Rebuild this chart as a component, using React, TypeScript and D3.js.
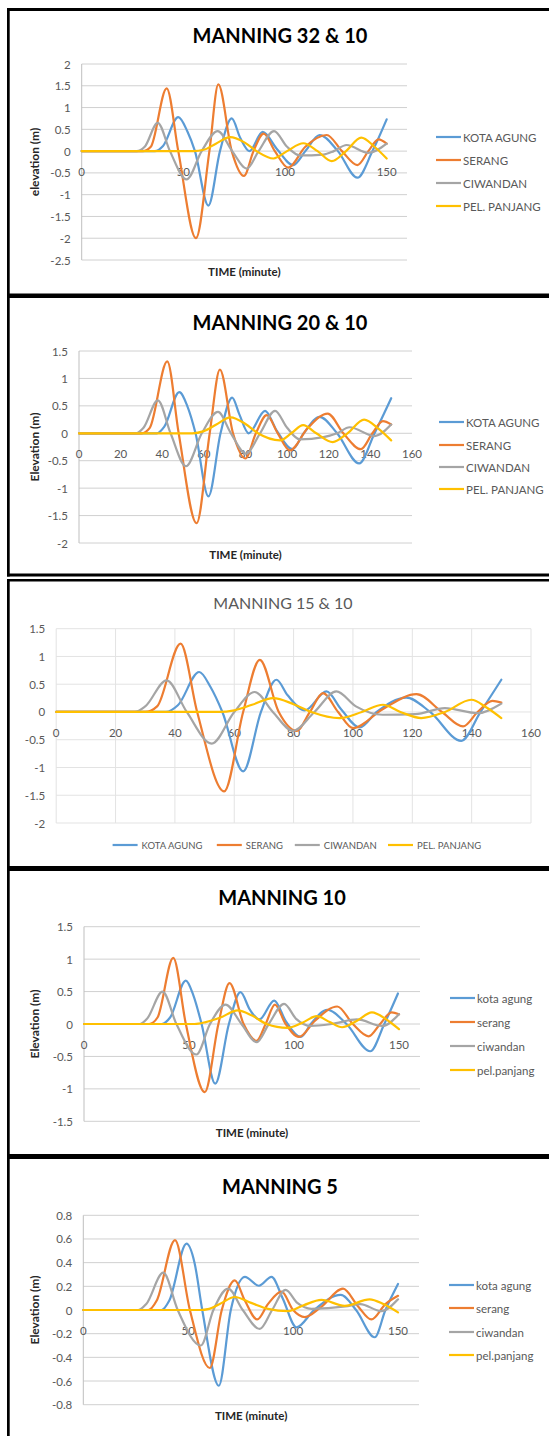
import React from 'react';
import * as d3 from 'd3';

type Pt = [number, number];

// series names and colours
const namesUpper = ['KOTA AGUNG', 'SERANG', 'CIWANDAN', 'PEL. PANJANG'];
const namesLower = ['kota agung', 'serang', 'ciwandan', 'pel.panjang'];
const colors = ['#5B9BD5', '#ED7D31', '#A5A5A5', '#FFC000'];

// tick labels
const xTicks50 = [0, 50, 100, 150];
const xTicks20 = [0, 20, 40, 60, 80, 100, 120, 140, 160];
const yTicks32 = [-2.5, -2, -1.5, -1, -0.5, 0, 0.5, 1, 1.5, 2];
const yTicks20 = [-2, -1.5, -1, -0.5, 0, 0.5, 1, 1.5];
const yTicks15 = [-2, -1.5, -1, -0.5, 0, 0.5, 1, 1.5];
const yTicks10 = [-1.5, -1, -0.5, 0, 0.5, 1, 1.5];
const yTicks5 = [-0.8, -0.6, -0.4, -0.2, 0, 0.2, 0.4, 0.6, 0.8];

// MANNING 32 & 10
const m32Kota: Pt[] = [[0, 0], [36, 0], [40, 0.12], [47.5, 0.78], [52, 0.45], [55.7, 0], [62.3, -1.25], [68, 0], [73.8, 0.75], [78, 0.3], [82.5, 0], [89, 0.44], [96, 0.05], [104, -0.32], [110, 0], [117, 0.37], [126, 0], [135.6, -0.61], [143, 0], [150, 0.73]];
const m32Serang: Pt[] = [[0, 0], [30, 0], [34, 0.1], [41.8, 1.44], [47.5, 0], [56.2, -2.0], [62.8, 0], [67.2, 1.53], [73.8, 0], [79.8, -0.57], [84.5, 0], [89.5, 0.4], [95, 0], [101.5, -0.38], [110, 0.1], [120.5, 0.37], [128, 0], [135.6, -0.32], [141, 0], [146, 0.27], [150, 0.17]];
const m32Ciwandan: Pt[] = [[0, 0], [27, 0], [31, 0.1], [37.4, 0.65], [43.4, 0], [51.6, -0.65], [59, 0], [66.9, 0.46], [74, 0], [81.2, -0.4], [87, 0], [94.6, 0.46], [101, 0.1], [107.4, -0.1], [118.8, -0.08], [124, 0], [130.3, 0.14], [141, -0.04], [150, 0.17]];
const m32Panjang: Pt[] = [[0, 0], [55, 0], [60, 0.03], [66, 0.17], [73, 0.32], [80, 0.2], [86, 0], [94.3, -0.17], [101, 0], [109, 0.18], [116, 0], [123, -0.23], [130, 0], [137.5, 0.31], [144, 0.1], [150, -0.17]];

// MANNING 20 & 10
const m20Kota: Pt[] = [[0, 0], [37.5, 0], [41, 0.12], [48.2, 0.75], [52, 0.5], [56, 0], [62.2, -1.15], [68, 0], [73.6, 0.65], [77, 0.35], [81.5, 0], [89.4, 0.41], [95, 0.05], [102.5, -0.29], [108, 0], [115.6, 0.3], [124, 0], [134.6, -0.55], [142, 0], [150, 0.64]];
const m20Serang: Pt[] = [[0, 0], [30, 0], [34, 0.1], [42.4, 1.31], [47.9, 0], [56.5, -1.64], [62.8, 0], [67.7, 1.16], [74, 0], [79.9, -0.46], [85, 0], [90.2, 0.33], [95.5, 0], [101.3, -0.31], [110, 0.1], [119.5, 0.36], [127, 0], [135.4, -0.29], [141, 0], [146, 0.22], [150, 0.16]];
const m20Ciwandan: Pt[] = [[0, 0], [27.5, 0], [31, 0.1], [37.9, 0.6], [44, 0], [51.4, -0.6], [59, 0], [66.8, 0.39], [73, 0], [80.2, -0.37], [87, 0], [94.2, 0.41], [100, 0.1], [106, -0.11], [117.5, -0.07], [124, 0], [130, 0.11], [142, -0.05], [150, 0.16]];
const m20Panjang: Pt[] = [[0, 0], [54.5, 0], [60, 0.04], [66, 0.16], [72.8, 0.29], [80, 0.17], [86, 0], [96.6, -0.13], [102, 0], [107.7, 0.15], [114, 0], [121.9, -0.16], [129, 0], [137, 0.25], [144, 0.08], [150, -0.13]];

// MANNING 15 & 10
const m15Kota: Pt[] = [[0, 0], [37, 0], [41, 0.12], [48.2, 0.72], [52, 0.45], [56, 0], [63, -1.07], [69, 0], [74.2, 0.58], [78, 0.3], [83.8, 0.03], [91.1, 0.37], [96, 0.05], [102.3, -0.28], [108, 0], [118, 0.26], [126, 0], [136.5, -0.52], [143, 0], [150, 0.58]];
const m15Serang: Pt[] = [[0, 0], [30, 0], [34, 0.1], [41.9, 1.23], [47.5, 0], [56.6, -1.43], [63, 0], [68.6, 0.94], [75, 0], [81, -0.34], [85.5, 0], [89.9, 0.34], [95, 0], [100, -0.29], [110, 0.05], [121.4, 0.32], [130, 0], [137.1, -0.26], [142, 0], [147, 0.2], [150, 0.17]];
const m15Ciwandan: Pt[] = [[0, 0], [26.5, 0], [30, 0.1], [37.2, 0.57], [44, 0], [52.4, -0.57], [60, 0], [66.9, 0.36], [73, 0], [79.8, -0.34], [87, 0], [94.4, 0.37], [101, 0.1], [110, -0.05], [121, -0.04], [131, 0.07], [142, -0.02], [150, 0.15]];
const m15Panjang: Pt[] = [[0, 0], [55, 0], [60, 0.03], [66, 0.13], [73.1, 0.25], [80, 0.14], [86, 0], [95.5, -0.11], [103, 0], [110.1, 0.13], [116, 0], [123, -0.11], [131, 0], [139.9, 0.22], [145, 0.08], [150, -0.11]];

// MANNING 10
const m10Kota: Pt[] = [[0, 0], [37, 0], [41, 0.1], [48.5, 0.67], [52, 0.45], [56, 0], [62.5, -0.92], [69, 0], [74.5, 0.49], [79, 0.22], [83.5, 0.07], [90.6, 0.36], [96, 0.05], [103.2, -0.2], [108, 0], [115.8, 0.22], [125, 0], [136.3, -0.42], [143, 0], [149.5, 0.47]];
const m10Serang: Pt[] = [[0, 0], [31, 0], [35, 0.1], [42.5, 1.02], [48.5, 0], [57.5, -1.05], [64, 0], [69.3, 0.63], [76, 0], [82.2, -0.26], [86.5, 0], [90.9, 0.3], [96, 0], [102.4, -0.2], [110, 0.05], [120.6, 0.27], [128, 0], [135.5, -0.19], [141, 0], [146.5, 0.18], [150, 0.15]];
const m10Ciwandan: Pt[] = [[0, 0], [26.7, 0], [30, 0.08], [37.4, 0.5], [44, 0], [53.5, -0.47], [60, 0], [67.4, 0.3], [75, 0], [82.2, -0.28], [88, 0], [95.3, 0.31], [101, 0.08], [108, -0.03], [118, 0.0], [130, 0.07], [142, -0.03], [150, 0.15]];
const m10Panjang: Pt[] = [[0, 0], [52.7, 0], [58, 0.03], [65, 0.1], [73.2, 0.21], [80, 0.13], [87, 0], [96.9, -0.06], [104, 0.02], [110.8, 0.12], [117, 0.03], [122.9, -0.05], [130, 0.05], [137.1, 0.18], [144, 0.07], [150, -0.08]];

// MANNING 5
const m5Kota: Pt[] = [[0, 0], [37.3, 0], [41, 0.08], [49.2, 0.56], [53, 0.4], [56.7, 0], [64.6, -0.64], [70.3, 0], [77, 0.28], [83.7, 0.205], [89.7, 0.28], [95, 0.1], [101.6, -0.146], [110, 0], [122.7, 0.127], [130, 0], [138.9, -0.23], [144, 0], [150, 0.22]];
const m5Serang: Pt[] = [[0, 0], [31, 0], [35, 0.08], [43.7, 0.59], [50.8, 0], [60.3, -0.49], [66, 0], [72.2, 0.25], [77, 0.08], [82.9, -0.08], [88, 0.05], [94.5, 0.155], [100, 0], [105.6, -0.06], [113, 0.02], [123.8, 0.18], [131, 0.03], [137.3, -0.08], [144, 0.05], [150, 0.12]];
const m5Ciwandan: Pt[] = [[0, 0], [26.2, 0], [30, 0.05], [38.1, 0.315], [45, 0], [56, -0.3], [62, 0], [69, 0.18], [76, 0], [84.1, -0.16], [90, 0], [96.4, 0.17], [102, 0.06], [108.8, 0.01], [125, 0.03], [132, 0.05], [142, -0.01], [150, 0.09]];
const m5Panjang: Pt[] = [[0, 0], [55.6, 0], [60, 0.01], [65, 0.05], [72.2, 0.11], [80, 0.06], [88, 0.01], [97.6, -0.01], [105, 0.04], [113.5, 0.085], [124.6, 0.035], [136.5, 0.09], [143, 0.05], [150, -0.02]];

const FONT = 'Lato, "Open Sans", sans-serif';

interface PanelCfg {
  title: string;
  modern?: boolean;
  titleX: number;
  titleY: number;
  left: number;
  right: number;
  top: number;
  bottom: number;
  xTicks: number[];
  yTicks: number[];
  yLabel?: string;
  names: string[];
  legendX?: number;
  legendRows?: number[];
  legendItems?: number[];
  legendY?: number;
  series: Pt[][];
}

const panels: PanelCfg[] = [
  {
    title: 'MANNING 32 & 10', titleX: 280, titleY: 35,
    left: 81.7, right: 407, top: 64, bottom: 260,
    xTicks: xTicks50, yTicks: yTicks32, yLabel: 'elevation (m)', names: namesUpper,
    legendX: 436, legendRows: [137, 160, 183, 206],
    series: [m32Kota, m32Serang, m32Ciwandan, m32Panjang],
  },
  {
    title: 'MANNING 20 & 10', titleX: 280, titleY: 322,
    left: 79, right: 412, top: 351, bottom: 543,
    xTicks: xTicks20, yTicks: yTicks20, yLabel: 'Elevation (m)', names: namesUpper,
    legendX: 439, legendRows: [422, 445, 467, 489],
    series: [m20Kota, m20Serang, m20Ciwandan, m20Panjang],
  },
  {
    title: 'MANNING 15 & 10', modern: true, titleX: 283, titleY: 602,
    left: 56.2, right: 531, top: 628.7, bottom: 823,
    xTicks: xTicks20, yTicks: yTicks15, names: namesUpper,
    legendItems: [112.6, 216.8, 294.8, 388], legendY: 845,
    series: [m15Kota, m15Serang, m15Ciwandan, m15Panjang],
  },
  {
    title: 'MANNING 10', titleX: 282, titleY: 897,
    left: 84, right: 420, top: 926.7, bottom: 1121.3,
    xTicks: xTicks50, yTicks: yTicks10, yLabel: 'Elevation (m)', names: namesLower,
    legendX: 450, legendRows: [998, 1022, 1046, 1070],
    series: [m10Kota, m10Serang, m10Ciwandan, m10Panjang],
  },
  {
    title: 'MANNING 5', titleX: 280, titleY: 1186,
    left: 83.3, right: 419, top: 1215.3, bottom: 1404.7,
    xTicks: xTicks50, yTicks: yTicks5, yLabel: 'Elevation (m)', names: namesLower,
    legendX: 449, legendRows: [1285, 1308, 1332, 1355],
    series: [m5Kota, m5Serang, m5Ciwandan, m5Panjang],
  },
];

function Panel({ cfg }: { cfg: PanelCfg }) {
  const yMin = cfg.yTicks[0];
  const yMax = cfg.yTicks[cfg.yTicks.length - 1];
  const x = d3.scaleLinear().domain([0, 160]).range([cfg.left, cfg.right]);
  const y = d3.scaleLinear().domain([yMin, yMax]).range([cfg.bottom, cfg.top]);
  const line = d3.line<Pt>().x(d => x(d[0])).y(d => y(d[1])).curve(d3.curveMonotoneX);
  const gridColor = cfg.modern ? '#E3E3E3' : '#D0D0D0';
  const cx = (cfg.left + cfg.right) / 2;
  const cy = (cfg.top + cfg.bottom) / 2;

  return (
    <g fontFamily={FONT}>
      <text x={cfg.titleX} y={cfg.titleY} textAnchor="middle" dominantBaseline="central"
        fontSize={cfg.modern ? 16 : 20} fontWeight={cfg.modern ? 400 : 700}
        fill={cfg.modern ? '#595959' : '#000'}>{cfg.title}</text>

      {cfg.yTicks.map(t => (
        <line key={'g' + t} x1={cfg.left} x2={cfg.right} y1={y(t)} y2={y(t)} stroke={gridColor} strokeWidth={1} />
      ))}
      {cfg.modern && cfg.xTicks.map(t => (
        <line key={'v' + t} x1={x(t)} x2={x(t)} y1={cfg.top} y2={cfg.bottom} stroke={gridColor} strokeWidth={1} />
      ))}
      {!cfg.modern && (
        <line x1={cfg.left} x2={cfg.left} y1={cfg.top} y2={cfg.bottom} stroke="#BFBFBF" strokeWidth={1} />
      )}

      {cfg.yTicks.map(t => (
        <text key={'yl' + t} x={cfg.left - 11} y={y(t)} textAnchor="end" dominantBaseline="central"
          fontSize={11.5} fill="#595959">{String(t)}</text>
      ))}
      {cfg.xTicks.map(t => (
        <text key={'xl' + t} x={x(t)} y={y(0) + 20.5} textAnchor="middle" dominantBaseline="central"
          fontSize={11.5} fill="#595959">{String(t)}</text>
      ))}

      {cfg.series.map((s, i) => (
        <path key={'s' + i} d={line(s) || ''} fill="none" stroke={colors[i]} strokeWidth={2.2}
          strokeLinejoin="round" strokeLinecap="round" />
      ))}

      {cfg.yLabel && (
        <text transform={`translate(34,${cy}) rotate(-90)`} textAnchor="middle" dominantBaseline="central"
          fontSize={12} fontWeight={700} fill="#262626">{cfg.yLabel}</text>
      )}
      {cfg.yLabel && (
        <text x={cx} y={cfg.bottom + 11} textAnchor="middle" dominantBaseline="central"
          fontSize={11.5} fontWeight={700} fill="#262626">TIME (minute)</text>
      )}

      {cfg.legendRows && cfg.legendRows.map((ry, i) => (
        <g key={'lg' + i}>
          <line x1={cfg.legendX!} x2={cfg.legendX! + 25} y1={ry} y2={ry} stroke={colors[i]} strokeWidth={2.2} />
          <text x={cfg.legendX! + 27} y={ry} dominantBaseline="central" fontSize={11.5} fill="#595959">{cfg.names[i]}</text>
        </g>
      ))}
      {cfg.legendItems && cfg.legendItems.map((lx, i) => (
        <g key={'lh' + i}>
          <line x1={lx} x2={lx + 25} y1={cfg.legendY!} y2={cfg.legendY!} stroke={colors[i]} strokeWidth={2.2} />
          <text x={lx + 29} y={cfg.legendY!} dominantBaseline="central" fontSize={9.5} fill="#595959">{cfg.names[i]}</text>
        </g>
      ))}
    </g>
  );
}

// frame bands: [y, height]
const bands: [number, number][] = [[8, 3], [293.5, 4.5], [573.5, 3], [579, 2.5], [866, 5], [1154, 5]];

export default function App() {
  return (
    <svg width={549} height={1436} style={{ position: 'absolute', left: 0, top: 0, background: '#fff' }}>
      <rect x={0} y={0} width={549} height={1436} fill="#fff" />
      {panels.map((p, i) => <Panel key={i} cfg={p} />)}
      {bands.map(([by, bh], i) => (
        <rect key={'b' + i} x={7} y={by} width={542} height={bh} fill="#000" />
      ))}
      <rect x={7} y={8} width={2.7} height={568.5} fill="#000" />
      <rect x={7} y={579} width={2.7} height={857} fill="#000" />
    </svg>
  );
}
